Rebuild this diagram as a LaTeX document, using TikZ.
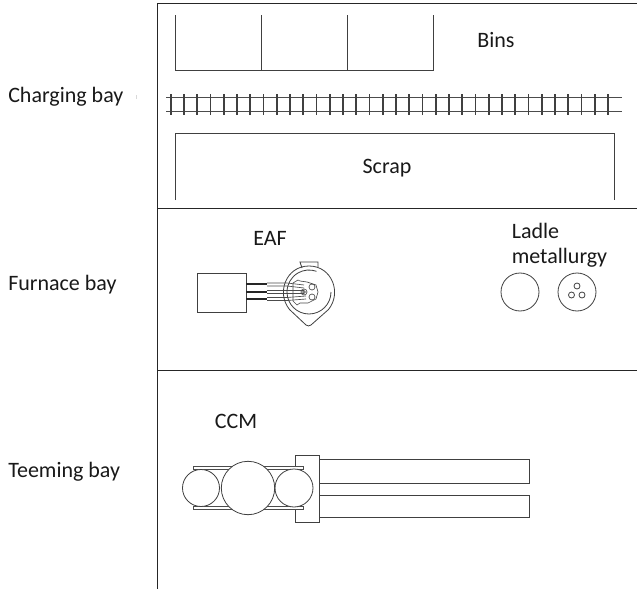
\documentclass[tikz,border=0pt]{standalone}
\usepackage{fontspec}
\setmainfont{Carlito}
\begin{document}
\begin{tikzpicture}[x=0.75pt,y=-0.75pt,
  frameline/.style={draw=black!85,line width=0.75pt},
  plant/.style={draw=black!75,line width=0.6pt},
  thin plant/.style={draw=black!70,line width=0.5pt},
  label/.style={font=\fontsize{16.5pt}{18.8pt}\selectfont,text=black!90,inner sep=0pt,align=left},
  rail/.style={draw=black!70,line width=0.7pt},
  tie/.style={draw=black!75,line width=1.3pt}]
\useasboundingbox[fill=white] (0,0) rectangle (637,589);
% frame
\draw[frameline] (157,589) -- (157,3) -- (637,3);
\draw[frameline] (157,208) -- (637,208);
\draw[frameline] (157,370) -- (637,370);
% bay labels
\node[label,anchor=west] (charging) at (8,97) {Charging bay};
\node[label,anchor=west] (furnace) at (8,285) {Furnace bay};
\node[label,anchor=west] (teeming) at (8,472) {Teeming bay};
\draw[black!15,line width=0.6pt] (136,95) -- (136,99);
% bins
\draw[plant] (175,15) -- (175,70) -- (433,70) -- (433,15);
\draw[plant] (261,15) -- (261,70);
\draw[plant] (347,15) -- (347,70);
\node[label] (bins) at (496,40) {Bins};
% track
\draw[rail] (166,97.7) -- (622,97.7);
\draw[rail] (166,111.7) -- (622,111.7);
\foreach \i in {0,...,33}{
  \draw[tie] ({170.7+13.25*\i},94) -- ({170.7+13.25*\i},115);
}
% scrap
\draw[plant] (175,200) -- (175,133) -- (614,133) -- (614,200);
\node[label] (scrap) at (387,168) {Scrap};
% EAF
\node[label] (eaf) at (270,238) {EAF};
\draw[plant] (197.7,273) rectangle (246,312);
\foreach \y in {284,292,299}{
  \draw[black!85,line width=1.1pt] (246,\y) -- (267,\y);
}
\draw[thin plant] (267,283) -- (287,283) -- (304,285);
\draw[thin plant] (267,286) -- (287,286) -- (304,288);
\draw[thin plant] (267,290.5) -- (304,290.5);
\draw[thin plant] (267,293.5) -- (304,293.5);
\draw[thin plant] (267,297.5) -- (287,297.5) -- (306,296);
\draw[thin plant] (267,300.5) -- (287,300.5) -- (306,299);
% shell with spout
\draw[plant] (289.5,309.5) .. controls (276,293) and (286,266) .. (309,266)
  .. controls (332,266) and (342,293) .. (328.5,309.5) -- (311,325) .. controls (309,326.5) and (308,326) .. (306,325) -- cycle;
\draw[plant] (287,292) arc[start angle=180,end angle=0,x radius=22,y radius=22];
\draw[plant] (287,292) arc[start angle=180,end angle=290,x radius=22,y radius=22];
% tab
\draw[plant] (302,268) -- (300,262) -- (318,262) -- (318,267);
% roof
\draw[thin plant] (293,283) -- (298,280) -- (300,281) -- (307,282) -- (316,285) -- (318,292)
  -- (316,299) -- (308,303) -- (300,303) -- (297,305) -- (293,301) -- cycle;
\draw[thin plant] (312,287) circle[radius=3];
\draw[thin plant] (304,292) circle[radius=3];
\draw[thin plant] (312,297) circle[radius=3];
\draw[thin plant] (304,292) circle[radius=1.3];
% ladle metallurgy
\node[label] (ladle) at (559.5,245) {Ladle\\metallurgy};
\draw[plant] (520,292) circle[radius=19];
\draw[plant] (577,292) circle[radius=19];
\draw[plant] (577,286) circle[radius=3];
\draw[plant] (571.5,295) circle[radius=3];
\draw[plant] (582,295) circle[radius=3];
% CCM
\node[label] (ccm) at (236,421) {CCM};
\draw[plant] (319,459) -- (529,459) -- (529,483) -- (319,483);
\draw[plant] (319,495) -- (529,495) -- (529,517) -- (319,517);
\draw[plant] (295,455) rectangle (319,522);
\foreach \y in {468,508}{
  \draw[thin plant,fill=white] (193,\y-1.5) rectangle (303.5,\y+1.5);
}
\draw[plant,fill=white] (201,488) circle[radius=18.5];
\draw[plant,fill=white] (294,488) circle[radius=19];
\draw[plant,fill=white] (248,488) circle[radius=26.7];
\end{tikzpicture}
\end{document}
